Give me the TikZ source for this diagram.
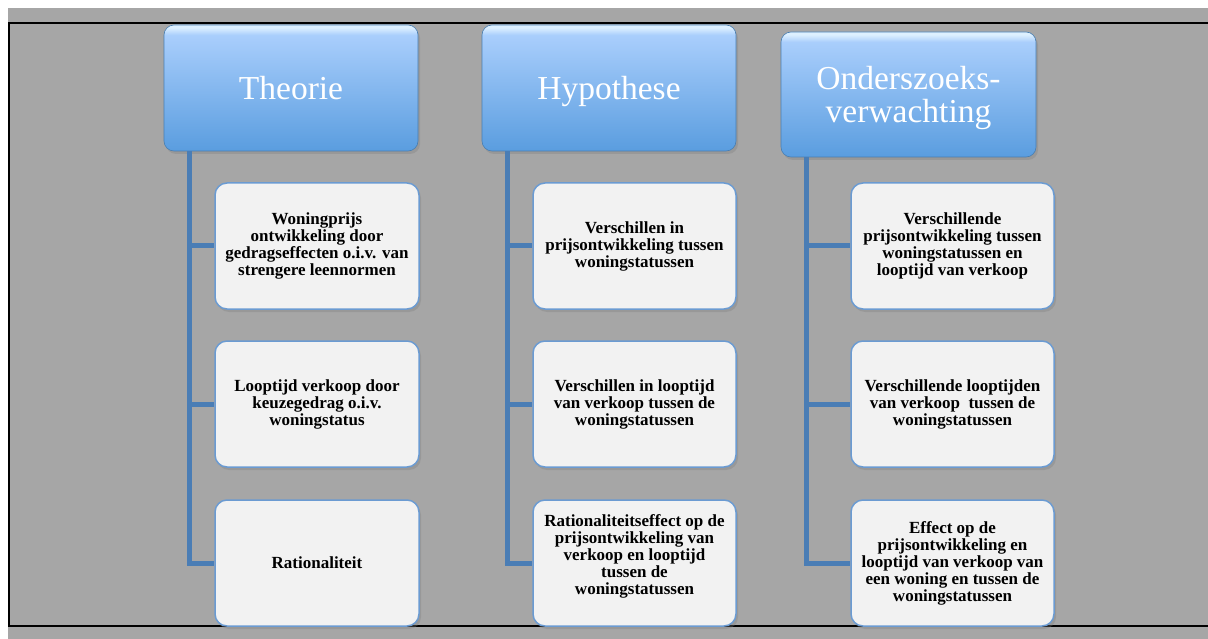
\documentclass[tikz,border=0pt]{standalone}
\usepackage{fontspec}
\setmainfont{Liberation Serif}
\usetikzlibrary{shadows}

\definecolor{bggray}{HTML}{A6A6A6}
\definecolor{linkblue}{HTML}{4A7DB5}
\definecolor{headhi}{HTML}{DDF0FF}
\definecolor{headtop}{HTML}{A9CEFC}
\definecolor{headbot}{HTML}{5A9DDF}
\definecolor{boxedge}{HTML}{6B9BD2}
\definecolor{boxfill}{HTML}{F2F2F2}

\pgfdeclareverticalshading{headshade}{100bp}{color(0bp)=(headbot); color(25bp)=(headbot);
  color(71bp)=(headtop); color(74bp)=(headhi); color(100bp)=(headhi)}

\tikzset{
  headbox/.style={rounded corners=10pt, shading=headshade,
    draw=headbot!80!black, line width=0.6pt,
    drop shadow={opacity=0.35, shadow xshift=2pt, shadow yshift=-3pt},
    minimum width=254pt, minimum height=126pt, text=white, align=center,
    inner sep=0pt, text depth=0pt, font=\fontsize{33.5}{33}\selectfont},
  leafbox/.style={rounded corners=12pt, fill=boxfill, draw=boxedge, line width=1.5pt,
    drop shadow={opacity=0.35, shadow xshift=2pt, shadow yshift=-3pt},
    minimum width=203pt, minimum height=126pt, align=center, inner sep=0pt,
    font=\bfseries\fontsize{17}{17}\selectfont},
  branch/.style={linkblue, line width=5pt}
}

\begin{document}
\begin{tikzpicture}[x=1pt,y=-1pt]
  \fill[white] (0,0) rectangle (1208,639);
  \fill[bggray] (8,8) rectangle (1208,639);
  \useasboundingbox (0,0) rectangle (1208,639);
  \draw[line width=1.5pt] (1208,23) -- (9,23) -- (9,626) -- (1208,626);

  % headers
  \node[headbox] (th) at (291,88) {Theorie};
  \node[headbox] (hy) at (609,88) {Hypothese};
  \node[headbox, minimum width=255pt, minimum height=125pt] (ov) at (908.5,94.5)
    {Onderszoeks-\\verwachting};

  % column 1
  \node[leafbox, minimum width=204pt] (th1) at (317,246)
    {Woningprijs\\ontwikkeling door\\gedragseffecten o.i.v. van\\strengere leennormen};
  \node[leafbox, minimum width=204pt] (th2) at (317,404)
    {Looptijd verkoop door\\keuzegedrag o.i.v.\\woningstatus};
  \node[leafbox, minimum width=204pt] (th3) at (317,563)
    {Rationaliteit};

  % column 2
  \node[leafbox] (hy1) at (634.5,246)
    {Verschillen in\\prijsontwikkeling tussen\\woningstatussen};
  \node[leafbox] (hy2) at (634.5,404)
    {Verschillen in looptijd\\van verkoop tussen de\\woningstatussen};
  \node[leafbox] (hy3) at (634.5,563)
    {Rationaliteitseffect op de\\prijsontwikkeling van\\verkoop en looptijd\\tussen de\\woningstatussen\\~};

  % column 3
  \node[leafbox] (ov1) at (952.5,246)
    {Verschillende\\prijsontwikkeling tussen\\woningstatussen en\\looptijd van verkoop};
  \node[leafbox] (ov2) at (952.5,404)
    {Verschillende looptijden\\van verkoop\ \ tussen de\\woningstatussen};
  \node[leafbox] (ov3) at (952.5,563)
    {Effect op de\\prijsontwikkeling en\\looptijd van verkoop van\\een woning en tussen de\\woningstatussen};

  % branches
  \foreach \h in {th,hy,ov}
    \foreach \i in {1,2,3}
      \draw[branch] ([xshift=26pt]\h.south west) |- (\h\i.west);
\end{tikzpicture}
\end{document}
